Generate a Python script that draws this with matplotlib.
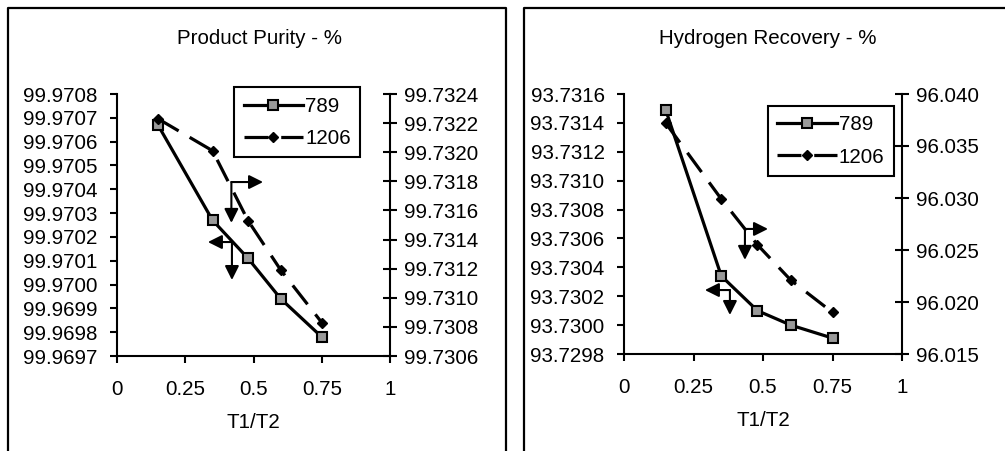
import matplotlib
matplotlib.use("Agg")
import matplotlib.pyplot as plt
import numpy as np
from matplotlib.lines import Line2D

plt.rcParams['font.family'] = ['Liberation Sans', 'DejaVu Sans']

# T1/T2 ratios
x_ratio = [0.15, 0.35, 0.48, 0.60, 0.75]
series_names = ["789", "1206"]

# product purity (%) - 789 on left axis, 1206 on right axis
purity_789 = [99.97067, 99.97027, 99.97011, 99.96994, 99.96978]
purity_1206 = [99.73223, 99.73201, 99.73153, 99.73119, 99.73083]

# hydrogen recovery (%) - 789 on left axis, 1206 on right axis
recovery_789 = [93.73149, 93.73034, 93.73010, 93.73000, 93.72991]
recovery_1206 = [96.0372, 96.0299, 96.0255, 96.0221, 96.0190]

xticks = [0, 0.25, 0.5, 0.75, 1]
xticklabels = ["0", "0.25", "0.5", "0.75", "1"]

FS = 14.8

fig = plt.figure(figsize=(10.05, 4.51), dpi=100)
fig.patch.set_facecolor("white")

# panel frames
W, H = 1005.0, 451.0
def fx(p): return p / W
def fy(p): return 1 - p / H
frame_kw = dict(color="black", lw=1.6, transform=fig.transFigure, clip_on=False)
fig.add_artist(Line2D([fx(8), fx(8), fx(506), fx(506)], [0, fy(8), fy(8), 0], **frame_kw))
fig.add_artist(Line2D([fx(524), fx(524), 1.0], [0, fy(8), fy(8)], **frame_kw))


def panel(rect, title, title_x, y1, y2, lim1, n1, fmt1, lim2, n2, fmt2, leg_anchor, arrows):
    ax = fig.add_axes(rect)
    ax2 = ax.twinx()
    ax.set_xlim(0, 1)
    ax.set_ylim(*lim1)
    ax2.set_ylim(*lim2)
    ax.set_xticks(xticks)
    ax.set_xticklabels(xticklabels)
    ax.set_yticks(np.linspace(lim1[0], lim1[1], n1))
    ax.set_yticklabels([fmt1 % v for v in np.linspace(lim1[0], lim1[1], n1)])
    ax2.set_yticks(np.linspace(lim2[0], lim2[1], n2))
    ax2.set_yticklabels([fmt2 % v for v in np.linspace(lim2[0], lim2[1], n2)])

    for a in (ax, ax2):
        a.set_facecolor("none")
        for s in a.spines.values():
            s.set_linewidth(1.5)
        a.spines["top"].set_visible(False)
    ax.spines["right"].set_visible(False)
    ax2.spines["left"].set_visible(False)
    ax2.spines["bottom"].set_visible(False)

    ax.tick_params(axis="x", direction="out", length=5, width=1.5, pad=12, labelsize=FS)
    ax.tick_params(axis="y", direction="out", length=5, width=1.5, pad=9, labelsize=FS)
    ax2.tick_params(axis="y", direction="inout", length=10, width=1.5, pad=5, labelsize=FS)

    l1, = ax.plot(x_ratio, y1, color="black", lw=2.3, marker="s", ms=7,
                  mfc="#999999", mec="black", mew=1.5, label=series_names[0])
    l2, = ax2.plot(x_ratio, y2, color="black", lw=2.3, marker="D", ms=5.5,
                   mfc="black", mec="black", dashes=(7.5, 4), label=series_names[1])

    leg = ax2.legend(handles=[l1, l2], loc="upper left", bbox_to_anchor=leg_anchor,
                     borderaxespad=0, fontsize=FS, frameon=True, fancybox=False,
                     framealpha=1, edgecolor="black", handlelength=2.9,
                     handletextpad=0.1, labelspacing=0.65, borderpad=0.45)
    leg.get_frame().set_linewidth(1.5)

    for corner, side_tip, down_tip in arrows:
        akw = dict(arrowstyle="-|>", color="black", lw=1.5, mutation_scale=21,
                   shrinkA=0, shrinkB=0)
        ax2.annotate("", xy=side_tip, xytext=corner, xycoords="axes fraction",
                     textcoords="axes fraction", arrowprops=akw)
        ax2.annotate("", xy=down_tip, xytext=corner, xycoords="axes fraction",
                     textcoords="axes fraction", arrowprops=akw)

    ax.set_xlabel("T1/T2", fontsize=FS, labelpad=10)
    fig.text(title_x, fy(38), title, ha="center", va="center", fontsize=FS)
    return ax, ax2


panel([fx(117), fy(356), fx(390) - fx(117), fy(94) - fy(356)],
      "Product Purity - %", fx(259),
      purity_789, purity_1206,
      (99.9697, 99.9708), 12, "%.4f",
      (99.7306, 99.7324), 10, "%.4f",
      (0.43, 1.025),
      [((0.419, 0.664), (0.535, 0.664), (0.419, 0.508)),
       ((0.421, 0.435), (0.333, 0.435), (0.421, 0.290))])

panel([fx(624), fy(354), fx(902) - fx(624), fy(94) - fy(354)],
      "Hydrogen Recovery - %", fx(768),
      recovery_789, recovery_1206,
      (93.7298, 93.7316), 10, "%.4f",
      (96.015, 96.040), 6, "%.3f",
      (0.518, 0.954),
      [((0.435, 0.481), (0.518, 0.481), (0.435, 0.362)),
       ((0.381, 0.246), (0.291, 0.246), (0.381, 0.150))])

fig.savefig("out.png", dpi=100)
